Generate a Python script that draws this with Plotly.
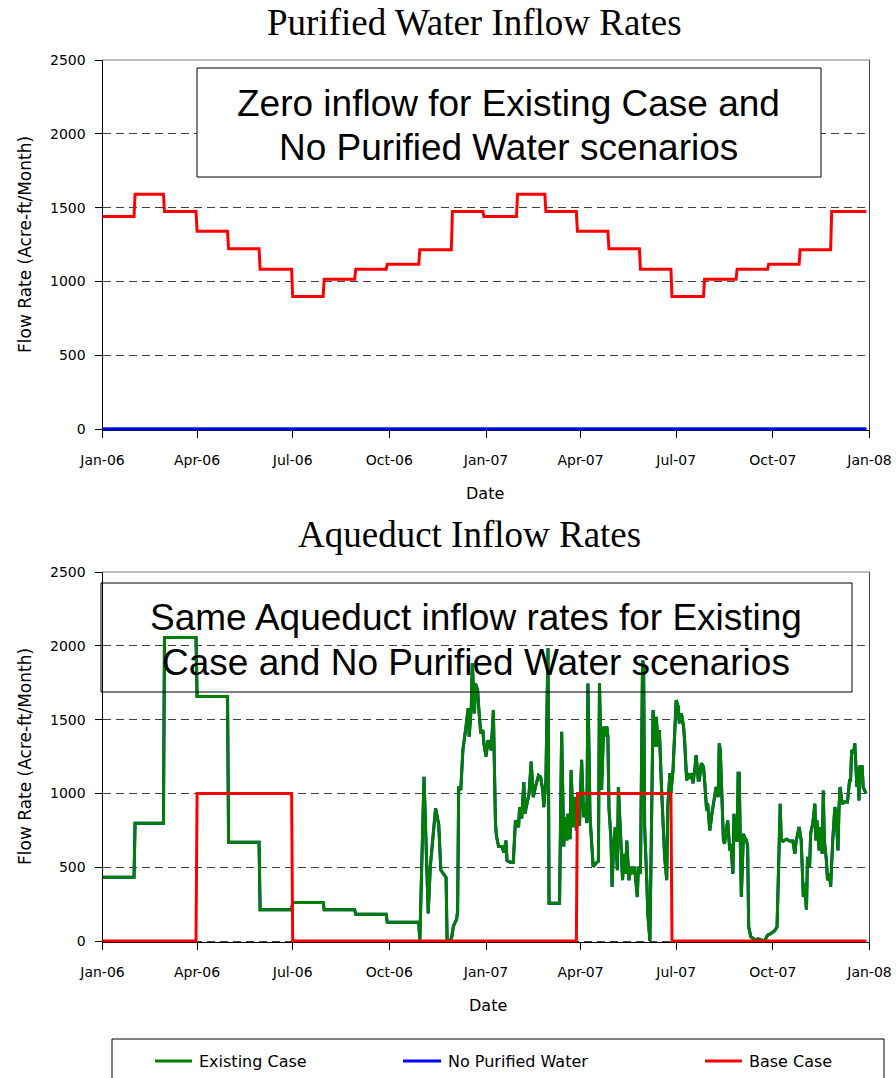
import pandas as pd
import plotly.graph_objects as go

# ---------------- data ----------------
# Purified water inflow (Base Case), monthly steps
purified_step_starts = [
    "2006-01-01", "2006-02-01", "2006-03-01", "2006-04-01", "2006-05-01", "2006-05-31",
    "2006-07-01", "2006-07-31", "2006-08-30", "2006-09-29", "2006-10-30", "2006-11-30",
    "2006-12-30", "2007-01-31", "2007-02-27", "2007-03-29", "2007-04-28", "2007-05-28",
    "2007-06-27", "2007-07-28", "2007-08-28", "2007-09-27", "2007-10-27", "2007-11-26",
]
purified_base_case = [
    1440, 1590, 1473, 1340, 1221, 1083, 898, 1015, 1083, 1117, 1214, 1473,
    1440, 1590, 1473, 1340, 1221, 1083, 898, 1015, 1083, 1117, 1214, 1473,
]
series_start = "2006-01-01"
series_end = "2007-12-29"

# Aqueduct inflow (Existing Case / No Purified Water): monthly steps, then daily record
aqueduct_step_starts = [
    "2006-01-01", "2006-02-01", "2006-03-01", "2006-04-01", "2006-05-01",
    "2006-05-31", "2006-07-01", "2006-07-31", "2006-08-30", "2006-09-29",
]
aqueduct_step_values = [432, 798, 2057, 1657, 669, 212, 260, 212, 181, 127]

aqueduct_daily_dates = [
    "2006-10-29", "2006-10-30", "2006-11-03", "2006-11-07", "2006-11-09", "2006-11-14",
    "2006-11-17", "2006-11-19", "2006-11-22", "2006-11-24", "2006-11-25", "2006-11-29",
    "2006-12-01", "2006-12-04", "2006-12-05", "2006-12-06", "2006-12-08", "2006-12-10",
    "2006-12-13", "2006-12-15", "2006-12-16", "2006-12-18", "2006-12-19", "2006-12-21",
    "2006-12-22", "2006-12-24", "2006-12-25", "2006-12-27", "2006-12-29", "2006-12-30",
    "2007-01-01", "2007-01-03", "2007-01-05", "2007-01-06", "2007-01-08", "2007-01-10",
    "2007-01-11", "2007-01-13", "2007-01-16", "2007-01-18", "2007-01-20", "2007-01-21",
    "2007-01-24", "2007-01-27", "2007-01-29", "2007-02-01", "2007-02-02", "2007-02-04",
    "2007-02-06", "2007-02-07", "2007-02-09", "2007-02-11", "2007-02-13", "2007-02-15",
    "2007-02-17", "2007-02-20", "2007-02-22", "2007-02-24", "2007-02-25", "2007-02-27",
    "2007-03-01", "2007-03-02", "2007-03-12", "2007-03-14", "2007-03-16", "2007-03-17",
    "2007-03-19", "2007-03-20", "2007-03-22", "2007-03-23", "2007-03-25", "2007-03-27",
    "2007-03-28", "2007-03-30", "2007-03-31", "2007-04-02", "2007-04-04", "2007-04-05",
    "2007-04-07", "2007-04-08", "2007-04-10", "2007-04-11", "2007-04-13", "2007-04-16",
    "2007-04-18", "2007-04-19", "2007-04-21", "2007-04-23", "2007-04-24", "2007-04-26",
    "2007-04-27", "2007-04-28", "2007-04-30", "2007-05-01", "2007-05-02", "2007-05-04",
    "2007-05-06", "2007-05-07", "2007-05-09", "2007-05-11", "2007-05-12", "2007-05-14",
    "2007-05-15", "2007-05-17", "2007-05-19", "2007-05-20", "2007-05-22", "2007-05-23",
    "2007-05-25", "2007-05-26", "2007-05-28", "2007-05-30", "2007-05-31", "2007-06-01",
    "2007-06-03", "2007-06-04", "2007-06-06", "2007-06-07", "2007-06-09", "2007-06-11",
    "2007-06-12", "2007-06-14", "2007-06-15", "2007-06-17", "2007-06-19", "2007-06-20",
    "2007-06-22", "2007-06-23", "2007-06-25", "2007-06-26", "2007-06-28", "2007-06-30",
    "2007-07-01", "2007-07-03", "2007-07-04", "2007-07-06", "2007-07-08", "2007-07-09",
    "2007-07-11", "2007-07-12", "2007-07-14", "2007-07-16", "2007-07-17", "2007-07-19",
    "2007-07-20", "2007-07-22", "2007-07-23", "2007-07-25", "2007-07-27", "2007-07-28",
    "2007-07-30", "2007-07-31", "2007-08-02", "2007-08-04", "2007-08-05", "2007-08-07",
    "2007-08-08", "2007-08-10", "2007-08-11", "2007-08-12", "2007-08-14", "2007-08-15",
    "2007-08-16", "2007-08-18", "2007-08-19", "2007-08-21", "2007-08-22", "2007-08-24",
    "2007-08-25", "2007-08-27", "2007-08-28", "2007-08-29", "2007-08-30", "2007-08-31",
    "2007-09-01", "2007-09-03", "2007-09-04", "2007-09-06", "2007-09-07", "2007-09-08",
    "2007-09-10", "2007-09-14", "2007-09-17", "2007-09-20", "2007-09-23", "2007-09-26",
    "2007-09-29", "2007-10-03", "2007-10-05", "2007-10-07", "2007-10-08", "2007-10-09",
    "2007-10-11", "2007-10-14", "2007-10-17", "2007-10-20", "2007-10-22", "2007-10-23",
    "2007-10-25", "2007-10-26", "2007-10-28", "2007-10-30", "2007-10-31", "2007-11-02",
    "2007-11-03", "2007-11-05", "2007-11-06", "2007-11-08", "2007-11-10", "2007-11-11",
    "2007-11-12", "2007-11-14", "2007-11-15", "2007-11-17", "2007-11-18", "2007-11-19",
    "2007-11-21", "2007-11-22", "2007-11-24", "2007-11-25", "2007-11-27", "2007-11-29",
    "2007-11-30", "2007-12-02", "2007-12-03", "2007-12-04", "2007-12-06", "2007-12-08",
    "2007-12-11", "2007-12-13", "2007-12-14", "2007-12-15", "2007-12-17", "2007-12-18",
    "2007-12-20", "2007-12-21", "2007-12-22", "2007-12-23", "2007-12-25", "2007-12-26",
    "2007-12-28", "2007-12-29",
]
aqueduct_daily_values = [
    127, 0, 1113, 187, 504, 899,
    790, 481, 450, 430, 0, 10,
    100, 147, 200, 1046, 1023, 1295,
    1453, 1576, 1384, 1586, 1881, 1542,
    1745, 1700, 1586, 1406, 1429, 1339,
    1249, 1361, 1316, 1293, 1564, 798,
    708, 640, 640, 600, 681, 545,
    534, 534, 817, 772, 907, 830,
    1077, 862, 930, 1000, 1215, 975,
    1043, 1122, 1110, 1020, 907, 1088,
    1983, 255, 255, 1418, 640, 839,
    681, 862, 690, 1158, 772, 975,
    749, 907, 780, 1227, 839, 930,
    799, 1745, 839, 729, 503, 530,
    540, 1746, 1024, 1453, 1386, 1453,
    1386, 907, 681, 367, 571, 772,
    480, 1043, 681, 412, 591, 455,
    681, 412, 503, 455, 503, 455,
    298, 503, 455, 1900, 1880, 772,
    412, 186, 0, 455, 1564, 1316,
    1519, 1316, 1429, 1046, 681, 571,
    412, 907, 1136, 1000, 1158, 1453,
    1632, 1587, 1475, 1542, 1453, 1361,
    1088, 1136, 1100, 1136, 1068, 1181,
    1260, 1091, 1091, 1204, 1181, 1091,
    885, 930, 749, 862, 907, 1020,
    1043, 975, 1339, 1290, 953, 681,
    658, 749, 817, 613, 658, 455,
    862, 681, 681, 1136, 1136, 681,
    298, 726, 704, 681, 640, 96,
    30, 7, 15, 7, 0, 39,
    50, 72, 96, 640, 930, 681,
    677, 690, 677, 677, 591, 670,
    729, 772, 681, 298, 388, 212,
    571, 503, 729, 794, 930, 681,
    817, 613, 772, 591, 1020, 681,
    545, 412, 455, 367, 681, 907,
    885, 613, 907, 1043, 930, 941,
    941, 1088, 1088, 1294, 1271, 1339,
    1043, 1181, 953, 1181, 1181, 1043,
    1009, 1000,
]

# Aqueduct inflow for Base Case: on/off periods
aqueduct_base_starts = ["2006-01-01", "2006-04-01", "2006-07-01", "2007-03-29", "2007-06-27"]
aqueduct_base_values = [0, 1000, 0, 1000, 0]

series_names = ["Existing Case", "No Purified Water", "Base Case"]
series_colors = ["#008000", "#0000FF", "#FF0000"]
y_ticks = [0, 500, 1000, 1500, 2000, 2500]


def step_points(starts, values, end):
    """Expand step periods into daily-style points (value held to the day before next step)."""
    ts = list(pd.to_datetime(starts + [end]))
    xs, ys = [], []
    for i, v in enumerate(values):
        stop = ts[i + 1] - pd.Timedelta(days=1) if i + 1 < len(values) else ts[i + 1]
        xs += [ts[i], stop]
        ys += [v, v]
    return xs, ys


pur_x, pur_y = step_points(purified_step_starts, purified_base_case, series_end)

aq_sx, aq_sy = step_points(aqueduct_step_starts, aqueduct_step_values, aqueduct_daily_dates[0])
aq_x = aq_sx[:-1] + list(pd.to_datetime(aqueduct_daily_dates))
aq_y = aq_sy[:-1] + aqueduct_daily_values

base_x, base_y = step_points(aqueduct_base_starts, aqueduct_base_values, series_end)

zero_x = [series_start, series_end]
zero_y = [0, 0]

# ---------------- layout geometry (pixels) ----------------
W, H = 896, 1078


def fx(px):
    return px / W


def fy(py):
    return 1 - py / H


PLOT_L, PLOT_R = 102.5, 869.5
Y_MIN = -10
panels = [(60, 429), (572, 941)]  # (pixel of 2500, pixel of 0)


def y_domain(top_px, zero_px):
    per = (zero_px - top_px) / 2500.0
    bottom_px = zero_px + (-Y_MIN) * per
    return [fy(bottom_px), fy(top_px)]


LINE_W = 3
fig = go.Figure()

# top panel: purified water inflow
fig.add_trace(go.Scatter(x=zero_x, y=zero_y, mode="lines", name=series_names[0],
                         line=dict(color=series_colors[0], width=LINE_W),
                         xaxis="x", yaxis="y", showlegend=False))
fig.add_trace(go.Scatter(x=zero_x, y=zero_y, mode="lines", name=series_names[1],
                         line=dict(color=series_colors[1], width=LINE_W),
                         xaxis="x", yaxis="y", showlegend=False))
fig.add_trace(go.Scatter(x=pur_x, y=pur_y, mode="lines", name=series_names[2],
                         line=dict(color=series_colors[2], width=LINE_W),
                         xaxis="x", yaxis="y", showlegend=False))

# bottom panel: aqueduct inflow (No Purified Water shares the Existing Case record)
fig.add_trace(go.Scatter(x=aq_x, y=aq_y, mode="lines", name=series_names[1],
                         line=dict(color=series_colors[1], width=LINE_W),
                         xaxis="x2", yaxis="y2", showlegend=False))
fig.add_trace(go.Scatter(x=aq_x, y=aq_y, mode="lines", name=series_names[0],
                         line=dict(color=series_colors[0], width=LINE_W),
                         xaxis="x2", yaxis="y2", showlegend=False))
fig.add_trace(go.Scatter(x=base_x, y=base_y, mode="lines", name=series_names[2],
                         line=dict(color=series_colors[2], width=LINE_W),
                         xaxis="x2", yaxis="y2", showlegend=False))

TICK_FONT = dict(family="DejaVu Sans", size=14, color="black")

xaxis_common = dict(
    domain=[fx(PLOT_L), fx(PLOT_R)], type="date",
    range=["2006-01-01", "2008-01-01"], tick0="2006-01-01", dtick="M3",
    tickformat="%b-%y", ticks="outside", ticklen=7, tickcolor="black", tickwidth=1,
    showline=True, linecolor="black", linewidth=1, showgrid=False, zeroline=False,
    tickfont=TICK_FONT, layer="below traces", ticklabelstandoff=10, automargin=False,
)
yaxis_common = dict(
    range=[Y_MIN, 2500], tickvals=y_ticks, ticks="outside", ticklen=7,
    tickcolor="black", tickwidth=1, showline=True, linecolor="black", linewidth=1,
    showgrid=True, gridcolor="#404040", gridwidth=1, griddash="8px,5px",
    zeroline=False, tickfont=TICK_FONT, layer="below traces", ticklabelstandoff=6,
    automargin=False,
)

fig.update_layout(
    width=W, height=H, autosize=False,
    margin=dict(l=0, r=0, t=0, b=0, pad=0, autoexpand=False),
    paper_bgcolor="white", plot_bgcolor="white",
    showlegend=False,
    xaxis=dict(anchor="y", **xaxis_common),
    yaxis=dict(anchor="x", domain=y_domain(*panels[0]), **yaxis_common),
    xaxis2=dict(anchor="y2", **xaxis_common),
    yaxis2=dict(anchor="x2", domain=y_domain(*panels[1]), **yaxis_common),
)

shapes = []
annotations = []

# gray top/right frame of each plot area
for top_px, zero_px in panels:
    bottom_px = zero_px + (-Y_MIN) * (zero_px - top_px) / 2500.0
    shapes.append(dict(type="line", xref="paper", yref="paper", layer="above",
                       x0=fx(PLOT_L), x1=fx(PLOT_R), y0=fy(top_px), y1=fy(top_px),
                       line=dict(color="#7f7f7f", width=1)))
    shapes.append(dict(type="line", xref="paper", yref="paper", layer="above",
                       x0=fx(PLOT_R), x1=fx(PLOT_R), y0=fy(top_px), y1=fy(bottom_px),
                       line=dict(color="#404040", width=1)))

# note boxes
shapes.append(dict(type="rect", xref="paper", yref="paper", layer="above",
                   x0=fx(197), x1=fx(821), y0=fy(177), y1=fy(68),
                   fillcolor="white", line=dict(color="black", width=1)))
shapes.append(dict(type="rect", xref="paper", yref="paper", layer="above",
                   x0=fx(101), x1=fx(852), y0=fy(692), y1=fy(583),
                   fillcolor="rgba(0,0,0,0)", line=dict(color="black", width=1)))

NOTE_FONT = dict(family="Liberation Sans, Arial", size=37, color="black")
for text, cx, cy in [
    ("Zero inflow for Existing Case and", 509, 103),
    ("No Purified Water scenarios", 509, 147),
    ("Same Aqueduct inflow rates for Existing", 476, 617),
    ("Case and No Purified Water scenarios", 476, 662),
]:
    annotations.append(dict(text=text, x=fx(cx), y=fy(cy), xref="paper", yref="paper",
                            xanchor="center", yanchor="middle", showarrow=False,
                            font=NOTE_FONT))

# chart titles
TITLE_FONT = dict(family="Liberation Serif, Times New Roman", size=37, color="black")
for text, cx, cy in [("Purified Water Inflow Rates", 474.5, 22),
                     ("Aqueduct Inflow Rates", 469, 535)]:
    annotations.append(dict(text=text, x=fx(cx), y=fy(cy), xref="paper", yref="paper",
                            xanchor="center", yanchor="middle", showarrow=False,
                            font=TITLE_FONT))

# axis titles
AXIS_FONT = dict(family="DejaVu Sans", size=17, color="black")
for cy in (245, 757):
    annotations.append(dict(text="Flow Rate (Acre-ft/Month)", x=fx(25), y=fy(cy),
                            xref="paper", yref="paper", xanchor="center",
                            yanchor="middle", textangle=-90, showarrow=False,
                            font=AXIS_FONT))
for cx, cy in ((485, 493), (488, 1005)):
    annotations.append(dict(text="Date", x=fx(cx), y=fy(cy), xref="paper", yref="paper",
                            xanchor="center", yanchor="middle", showarrow=False,
                            font=dict(family="DejaVu Sans", size=16, color="black")))

# legend panel
shapes.append(dict(type="rect", xref="paper", yref="paper", layer="above",
                   x0=fx(112), x1=fx(884), y0=fy(1090), y1=fy(1039),
                   fillcolor="white", line=dict(color="black", width=1)))
LEG_Y = 1061
for name, color, kx0, kx1 in zip(series_names, series_colors,
                                  (155, 403, 705), (192, 441, 742)):
    shapes.append(dict(type="line", xref="paper", yref="paper", layer="above",
                       x0=fx(kx0), x1=fx(kx1), y0=fy(LEG_Y), y1=fy(LEG_Y),
                       line=dict(color=color, width=3)))
    annotations.append(dict(text=name, x=fx(kx1 + 5), y=fy(LEG_Y), xref="paper",
                            yref="paper", xanchor="left", yanchor="middle",
                            showarrow=False,
                            font=dict(family="DejaVu Sans", size=16, color="black")))

fig.update_layout(shapes=shapes, annotations=annotations)

fig.write_html("out.html")
